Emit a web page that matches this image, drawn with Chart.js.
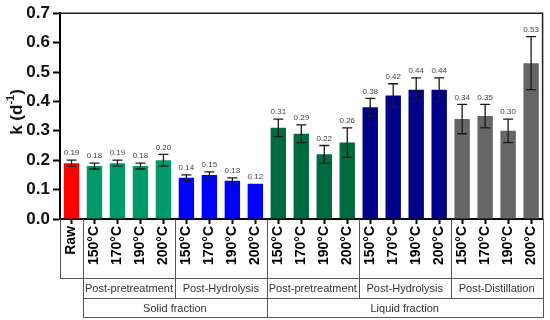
<!DOCTYPE html>
<html>
<head>
<meta charset="utf-8">
<script src="https://cdn.jsdelivr.net/npm/chart.js@4/dist/chart.umd.min.js"></script>
<style>
html,body{margin:0;padding:0;background:#fff;}
#c{display:block;}
</style>
</head>
<body>
<canvas id="c" width="550" height="320"></canvas>
<script>
// ---- data ----
const categories = ['Raw',
  '150°C','170°C','190°C','200°C',
  '150°C','170°C','190°C','200°C',
  '150°C','170°C','190°C','200°C',
  '150°C','170°C','190°C','200°C',
  '150°C','170°C','190°C','200°C'];
const values = [0.19,
  0.18,0.19,0.18,0.20,
  0.14,0.15,0.13,0.12,
  0.31,0.29,0.22,0.26,
  0.38,0.42,0.44,0.44,
  0.34,0.35,0.30,0.53];
const errors = [0.01,
  0.01,0.01,0.01,0.02,
  0.01,0.01,0.01,0.00,
  0.03,0.03,0.03,0.05,
  0.03,0.04,0.04,0.04,
  0.05,0.04,0.04,0.09];
const valueLabels = ['0.19',
  '0.18','0.19','0.18','0.20',
  '0.14','0.15','0.13','0.12',
  '0.31','0.29','0.22','0.26',
  '0.38','0.42','0.44','0.44',
  '0.34','0.35','0.30','0.53'];
const groupColors = ['#ff0000','#00996a','#0000ff','#006a40','#000088','#666666'];
const groupOf = [0,1,1,1,1,2,2,2,2,3,3,3,3,4,4,4,4,5,5,5,5];
const yTicks = [0,0.1,0.2,0.3,0.4,0.5,0.6,0.7];
// sub-group row: [label, first boundary, last boundary]
const subGroups = [['Post-pretreatment',1,5],['Post-Hydrolysis',5,9],['Post-pretreatment',9,13],['Post-Hydrolysis',13,17],['Post-Distillation',17,21]];
const fractions = [['Solid fraction',1,9],['Liquid fraction',9,21]];
const yTitle = 'k (d';
const yTitleSup = '-1';

const FONT = 'Arial, "Liberation Sans", sans-serif';

const decor = {
  id:'decor',
  afterDatasetsDraw(chart){
    const ctx = chart.ctx, xs = chart.scales.x, ys = chart.scales.y, ca = chart.chartArea;
    const meta = chart.getDatasetMeta(0);
    ctx.save();
    ctx.strokeStyle = '#1a1a1a';
    ctx.lineWidth = 1.3;
    meta.data.forEach((bar,i)=>{
      const x = bar.x;
      const top = ys.getPixelForValue(values[i]+errors[i]);
      const bot = ys.getPixelForValue(values[i]-errors[i]);
      if (errors[i] > 0){
        ctx.beginPath();
        ctx.moveTo(x,top); ctx.lineTo(x,bot);
        ctx.moveTo(x-5,top); ctx.lineTo(x+5,top);
        ctx.moveTo(x-5,bot); ctx.lineTo(x+5,bot);
        ctx.stroke();
      }
      ctx.fillStyle = '#444';
      ctx.font = '8px ' + FONT;
      ctx.textAlign = 'center';
      ctx.textBaseline = 'bottom';
      ctx.fillText(valueLabels[i], x, top - 3);
    });
    ctx.restore();
  },
  afterDraw(chart){
    const ctx = chart.ctx, xs = chart.scales.x, ca = chart.chartArea;
    const n = categories.length;
    const bw = (ca.right - ca.left)/n;
    const bx = k => ca.left + k*bw;
    ctx.save();
    ctx.strokeStyle = '#222';
    ctx.lineWidth = 1.5;
    ctx.beginPath();
    ctx.moveTo(ca.left, ca.top); ctx.lineTo(ca.right, ca.top); ctx.lineTo(ca.right, ca.bottom);
    ctx.stroke();
    const y0 = ca.bottom, y1 = 278.5, y2 = 298.5, y3 = 317.5;
    ctx.strokeStyle = '#555';
    ctx.lineWidth = 1;
    const vline = (k,yb)=>{ const x = Math.round(bx(k))+0.5; ctx.beginPath(); ctx.moveTo(x,y0); ctx.lineTo(x,yb); ctx.stroke(); };
    vline(0,y1); vline(1,y3); vline(5,y2); vline(9,y3); vline(13,y2); vline(17,y2); vline(21,y3);
    const hline = (k0,k1,y)=>{ ctx.beginPath(); ctx.moveTo(Math.round(bx(k0)),y); ctx.lineTo(Math.round(bx(k1))+1,y); ctx.stroke(); };
    hline(0,21,y1); hline(1,21,y2); hline(1,21,y3);
    ctx.fillStyle = '#333';
    ctx.font = '11px ' + FONT;
    ctx.textAlign = 'center';
    ctx.textBaseline = 'middle';
    subGroups.forEach(g=>{ ctx.fillText(g[0], (bx(g[1])+bx(g[2]))/2, (y1+y2)/2 + 0.5); });
    fractions.forEach(g=>{ ctx.fillText(g[0], (bx(g[1])+bx(g[2]))/2, (y2+y3)/2 + 0.5); });
    ctx.translate(17, 112);
    ctx.rotate(-Math.PI/2);
    ctx.fillStyle = '#111';
    ctx.font = 'bold 17px ' + FONT;
    const w1 = ctx.measureText(yTitle).width;
    ctx.font = 'bold 11px ' + FONT;
    const w2 = ctx.measureText(yTitleSup).width;
    ctx.font = 'bold 17px ' + FONT;
    const w3 = ctx.measureText(')').width;
    let sx = -(w1+w2+w3)/2;
    ctx.textAlign = 'left';
    ctx.textBaseline = 'middle';
    ctx.fillText(yTitle, sx, 0);
    ctx.font = 'bold 11px ' + FONT;
    ctx.fillText(yTitleSup, sx + w1, -6);
    ctx.font = 'bold 17px ' + FONT;
    ctx.fillText(')', sx + w1 + w2, 0);
    ctx.restore();
  }
};

new Chart(document.getElementById('c'), {
  type:'bar',
  data:{
    labels: categories,
    datasets:[{
      data: values,
      backgroundColor: groupOf.map(g=>groupColors[g]),
      borderWidth:0,
      barPercentage:0.67,
      categoryPercentage:1.0
    }]
  },
  options:{
    responsive:false,
    animation:false,
    devicePixelRatio:1,
    layout:{padding:{top:10,right:4,left:0,bottom:0}},
    plugins:{legend:{display:false},tooltip:{enabled:false}},
    scales:{
      x:{
        grid:{offset:false,drawOnChartArea:false,drawTicks:true,tickLength:5,tickWidth:2,tickColor:'#000'},
        border:{display:true,color:'#000',width:2},
        ticks:{autoSkip:false,maxRotation:90,minRotation:90,padding:2,color:'#000',font:{family:FONT,size:14,weight:'bold'}},
        afterFit(s){ s.height = 101; }
      },
      y:{
        min:0,max:0.7,
        afterBuildTicks(s){ s.ticks = yTicks.map(v=>({value:v})); },
        grid:{drawOnChartArea:false,drawTicks:true,tickLength:7,tickWidth:2,tickColor:'#000'},
        border:{display:true,color:'#000',width:2},
        ticks:{padding:3,color:'#111',font:{family:FONT,size:17,weight:'bold'},callback:v=>Number(v).toFixed(1)},
        afterFit(s){ s.width = 60; }
      }
    }
  },
  plugins:[decor]
});
</script>
</body>
</html>
